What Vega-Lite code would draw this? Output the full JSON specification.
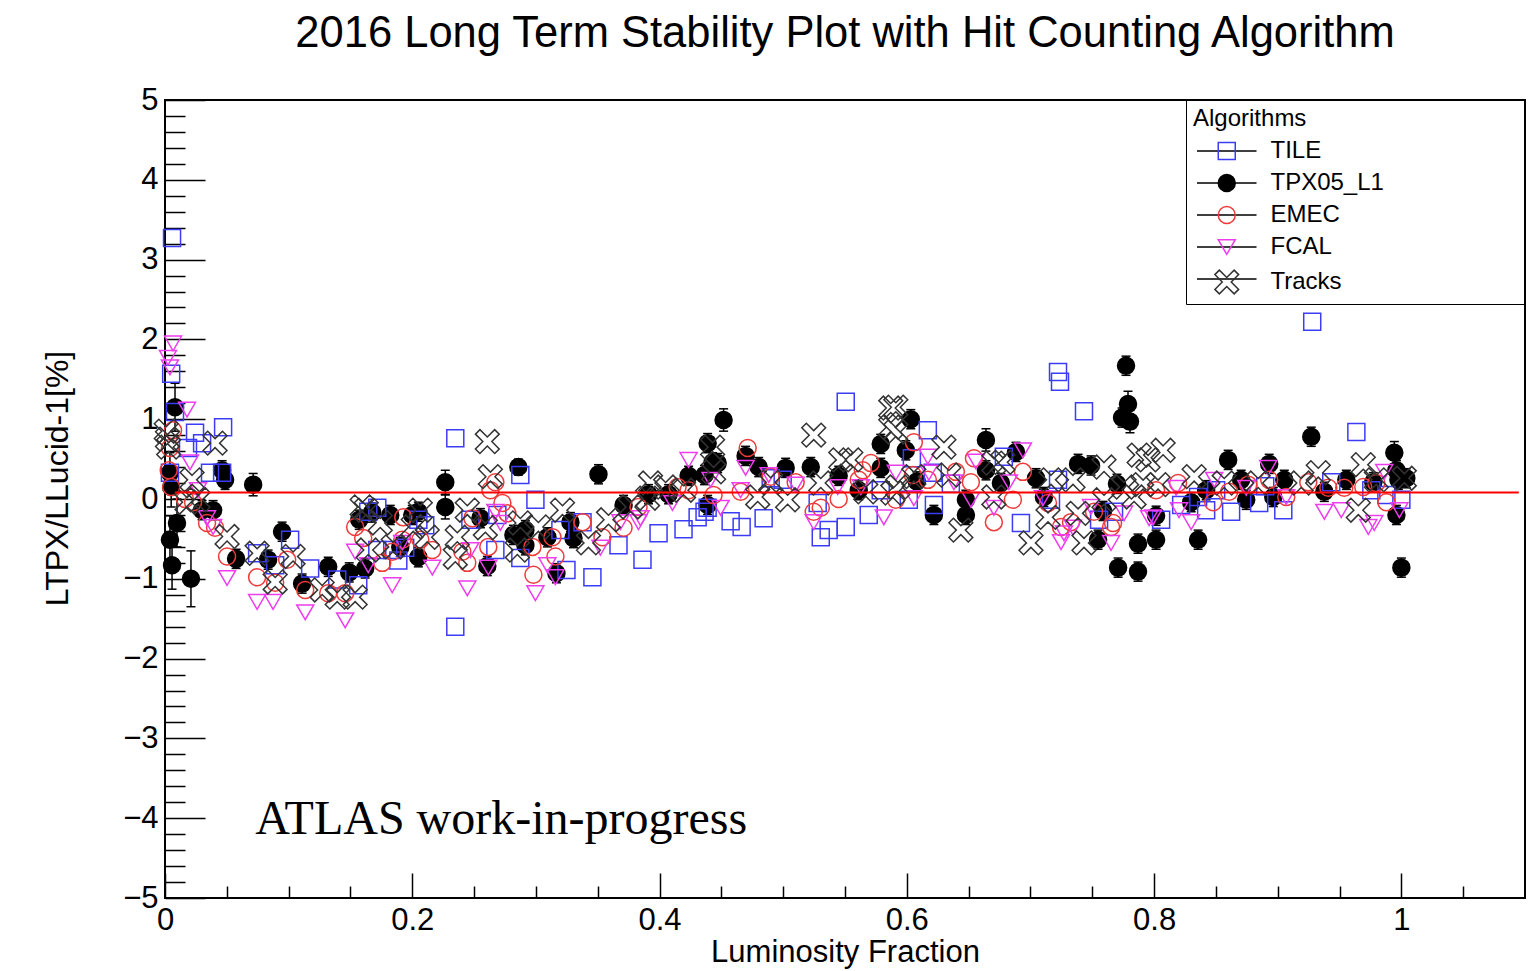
{
  "$schema": "https://vega.github.io/schema/vega-lite/v6.json",
  "width": 1360,
  "height": 798,
  "autosize": {"type": "none"},
  "padding": {"left": 165, "top": 100, "right": 12, "bottom": 73},
  "background": "white",
  "title": {
    "text": "2016 Long Term Stability Plot with Hit Counting Algorithm",
    "font": "Liberation Sans", "fontSize": 43.5, "fontWeight": "normal", "color": "black",
    "anchor": "middle", "frame": "group", "baseline": "alphabetic", "offset": 14, "dy": 20
  },
  "config": {
    "font": "Liberation Sans",
    "view": {"stroke": "black", "strokeWidth": 2}
  },
  "datasets": {
    "pts": [
      {"alg":"TPX05_L1","x":0.004,"y":-0.51,"lo":-0.81,"hi":-0.21},
      {"alg":"TPX05_L1","x":0.0057,"y":-0.83,"lo":-1.13,"hi":-0.53},
      {"alg":"TPX05_L1","x":0.0081,"y":1.15,"lo":0.85,"hi":1.45},
      {"alg":"TPX05_L1","x":0.0097,"y":-0.30,"lo":-0.60,"hi":0.00},
      {"alg":"TPX05_L1","x":0.004,"y":0.33,"lo":0.08,"hi":0.58},
      {"alg":"TPX05_L1","x":0.005,"y":0.15,"lo":-0.10,"hi":0.40},
      {"alg":"TPX05_L1","x":0.021,"y":-1.00,"lo":-1.35,"hi":-0.65},
      {"alg":"TPX05_L1","x":0.0462,"y":0.36,"lo":0.24,"hi":0.48},
      {"alg":"TPX05_L1","x":0.0486,"y":0.24,"lo":0.12,"hi":0.36},
      {"alg":"TPX05_L1","x":0.030,"y":-0.14,"lo":-0.26,"hi":-0.02},
      {"alg":"TPX05_L1","x":0.0389,"y":-0.14,"lo":-0.26,"hi":-0.02},
      {"alg":"TPX05_L1","x":0.0713,"y":0.18,"lo":0.04,"hi":0.32},
      {"alg":"TPX05_L1","x":0.0575,"y":-0.75,"lo":-0.87,"hi":-0.63},
      {"alg":"TPX05_L1","x":0.0947,"y":-0.41,"lo":-0.53,"hi":-0.29},
      {"alg":"TPX05_L1","x":0.0834,"y":-0.76,"lo":-0.88,"hi":-0.64},
      {"alg":"TPX05_L1","x":0.1109,"y":-1.06,"lo":-1.18,"hi":-0.94},
      {"alg":"TPX05_L1","x":0.132,"y":-0.85,"lo":-0.97,"hi":-0.73},
      {"alg":"TPX05_L1","x":0.149,"y":-0.92,"lo":-1.04,"hi":-0.80},
      {"alg":"TPX05_L1","x":0.1619,"y":-0.87,"lo":-0.99,"hi":-0.75},
      {"alg":"TPX05_L1","x":0.1571,"y":-0.26,"lo":-0.38,"hi":-0.14},
      {"alg":"TPX05_L1","x":0.1676,"y":-0.17,"lo":-0.29,"hi":-0.05},
      {"alg":"TPX05_L1","x":0.1822,"y":-0.20,"lo":-0.32,"hi":-0.08},
      {"alg":"TPX05_L1","x":0.1903,"y":-0.60,"lo":-0.72,"hi":-0.48},
      {"alg":"TPX05_L1","x":0.2049,"y":-0.73,"lo":-0.85,"hi":-0.61},
      {"alg":"TPX05_L1","x":0.2000,"y":-0.20,"lo":-0.32,"hi":-0.08},
      {"alg":"TPX05_L1","x":0.2049,"y":-0.16,"lo":-0.28,"hi":-0.04},
      {"alg":"TPX05_L1","x":0.2267,"y":0.21,"lo":0.06,"hi":0.36},
      {"alg":"TPX05_L1","x":0.2267,"y":-0.10,"lo":-0.25,"hi":0.05},
      {"alg":"TPX05_L1","x":0.2551,"y":-0.24,"lo":-0.36,"hi":-0.12},
      {"alg":"TPX05_L1","x":0.2607,"y":-0.84,"lo":-0.96,"hi":-0.72},
      {"alg":"TPX05_L1","x":0.2858,"y":0.40,"lo":0.30,"hi":0.50},
      {"alg":"TPX05_L1","x":0.2818,"y":-0.45,"lo":-0.57,"hi":-0.33},
      {"alg":"TPX05_L1","x":0.2915,"y":-0.39,"lo":-0.51,"hi":-0.27},
      {"alg":"TPX05_L1","x":0.2915,"y":-0.58,"lo":-0.70,"hi":-0.46},
      {"alg":"TPX05_L1","x":0.3093,"y":-0.48,"lo":-0.60,"hi":-0.36},
      {"alg":"TPX05_L1","x":0.3166,"y":-0.93,"lo":-1.05,"hi":-0.81},
      {"alg":"TPX05_L1","x":0.3279,"y":-0.29,"lo":-0.41,"hi":-0.17},
      {"alg":"TPX05_L1","x":0.3304,"y":-0.49,"lo":-0.61,"hi":-0.37},
      {"alg":"TPX05_L1","x":0.3506,"y":0.31,"lo":0.19,"hi":0.43},
      {"alg":"TPX05_L1","x":0.3709,"y":-0.075,"lo":-0.195,"hi":0.045},
      {"alg":"TPX05_L1","x":0.3911,"y":0.06,"lo":-0.06,"hi":0.18},
      {"alg":"TPX05_L1","x":0.4073,"y":0.06,"lo":-0.06,"hi":0.18},
      {"alg":"TPX05_L1","x":0.4235,"y":0.29,"lo":0.17,"hi":0.41},
      {"alg":"TPX05_L1","x":0.4364,"y":0.30,"lo":0.18,"hi":0.42},
      {"alg":"TPX05_L1","x":0.4389,"y":0.70,"lo":0.58,"hi":0.82},
      {"alg":"TPX05_L1","x":0.4429,"y":0.46,"lo":0.34,"hi":0.58},
      {"alg":"TPX05_L1","x":0.4470,"y":0.45,"lo":0.33,"hi":0.57},
      {"alg":"TPX05_L1","x":0.4518,"y":0.99,"lo":0.85,"hi":1.13},
      {"alg":"TPX05_L1","x":0.4389,"y":-0.075,"lo":-0.195,"hi":0.045},
      {"alg":"TPX05_L1","x":0.4696,"y":0.54,"lo":0.42,"hi":0.66},
      {"alg":"TPX05_L1","x":0.4802,"y":0.40,"lo":0.28,"hi":0.52},
      {"alg":"TPX05_L1","x":0.5020,"y":0.39,"lo":0.27,"hi":0.51},
      {"alg":"TPX05_L1","x":0.5223,"y":0.40,"lo":0.28,"hi":0.52},
      {"alg":"TPX05_L1","x":0.5449,"y":0.29,"lo":0.17,"hi":0.41},
      {"alg":"TPX05_L1","x":0.5611,"y":0.11,"lo":-0.01,"hi":0.23},
      {"alg":"TPX05_L1","x":0.5789,"y":0.69,"lo":0.57,"hi":0.81},
      {"alg":"TPX05_L1","x":0.5789,"y":0.39,"lo":0.27,"hi":0.51},
      {"alg":"TPX05_L1","x":0.5992,"y":0.61,"lo":0.49,"hi":0.73},
      {"alg":"TPX05_L1","x":0.6032,"y":1.00,"lo":0.88,"hi":1.12},
      {"alg":"TPX05_L1","x":0.6081,"y":0.22,"lo":0.10,"hi":0.34},
      {"alg":"TPX05_L1","x":0.6219,"y":-0.20,"lo":-0.32,"hi":-0.08},
      {"alg":"TPX05_L1","x":0.6478,"y":-0.01,"lo":-0.13,"hi":0.11},
      {"alg":"TPX05_L1","x":0.6478,"y":-0.20,"lo":-0.32,"hi":-0.08},
      {"alg":"TPX05_L1","x":0.6640,"y":0.74,"lo":0.60,"hi":0.88},
      {"alg":"TPX05_L1","x":0.6640,"y":0.36,"lo":0.24,"hi":0.48},
      {"alg":"TPX05_L1","x":0.6761,"y":0.20,"lo":0.08,"hi":0.32},
      {"alg":"TPX05_L1","x":0.6883,"y":0.59,"lo":0.47,"hi":0.71},
      {"alg":"TPX05_L1","x":0.7045,"y":0.26,"lo":0.14,"hi":0.38},
      {"alg":"TPX05_L1","x":0.7109,"y":0.025,"lo":-0.095,"hi":0.145},
      {"alg":"TPX05_L1","x":0.7385,"y":0.44,"lo":0.32,"hi":0.56},
      {"alg":"TPX05_L1","x":0.7490,"y":0.42,"lo":0.30,"hi":0.54},
      {"alg":"TPX05_L1","x":0.7547,"y":-0.51,"lo":-0.63,"hi":-0.39},
      {"alg":"TPX05_L1","x":0.7587,"y":-0.15,"lo":-0.27,"hi":-0.03},
      {"alg":"TPX05_L1","x":0.7700,"y":0.19,"lo":0.07,"hi":0.31},
      {"alg":"TPX05_L1","x":0.7709,"y":-0.86,"lo":-0.98,"hi":-0.74},
      {"alg":"TPX05_L1","x":0.7773,"y":1.67,"lo":1.55,"hi":1.79},
      {"alg":"TPX05_L1","x":0.7789,"y":1.19,"lo":1.03,"hi":1.35},
      {"alg":"TPX05_L1","x":0.7741,"y":1.02,"lo":0.90,"hi":1.14},
      {"alg":"TPX05_L1","x":0.7805,"y":0.97,"lo":0.83,"hi":1.11},
      {"alg":"TPX05_L1","x":0.7870,"y":-0.91,"lo":-1.03,"hi":-0.79},
      {"alg":"TPX05_L1","x":0.7870,"y":-0.56,"lo":-0.68,"hi":-0.44},
      {"alg":"TPX05_L1","x":0.8016,"y":-0.51,"lo":-0.63,"hi":-0.39},
      {"alg":"TPX05_L1","x":0.8016,"y":-0.21,"lo":-0.33,"hi":-0.09},
      {"alg":"TPX05_L1","x":0.8300,"y":-0.04,"lo":-0.16,"hi":0.08},
      {"alg":"TPX05_L1","x":0.8356,"y":-0.51,"lo":-0.63,"hi":-0.39},
      {"alg":"TPX05_L1","x":0.8421,"y":0.11,"lo":-0.01,"hi":0.23},
      {"alg":"TPX05_L1","x":0.8599,"y":0.49,"lo":0.37,"hi":0.61},
      {"alg":"TPX05_L1","x":0.8704,"y":0.24,"lo":0.12,"hi":0.36},
      {"alg":"TPX05_L1","x":0.8745,"y":-0.01,"lo":-0.13,"hi":0.11},
      {"alg":"TPX05_L1","x":0.8931,"y":0.44,"lo":0.32,"hi":0.56},
      {"alg":"TPX05_L1","x":0.8964,"y":0.025,"lo":-0.095,"hi":0.145},
      {"alg":"TPX05_L1","x":0.9053,"y":0.24,"lo":0.12,"hi":0.36},
      {"alg":"TPX05_L1","x":0.9271,"y":0.78,"lo":0.66,"hi":0.90},
      {"alg":"TPX05_L1","x":0.9377,"y":0.09,"lo":-0.03,"hi":0.21},
      {"alg":"TPX05_L1","x":0.9555,"y":0.24,"lo":0.12,"hi":0.36},
      {"alg":"TPX05_L1","x":0.9773,"y":0.21,"lo":0.09,"hi":0.33},
      {"alg":"TPX05_L1","x":0.9943,"y":0.58,"lo":0.44,"hi":0.72},
      {"alg":"TPX05_L1","x":0.9960,"y":0.36,"lo":0.24,"hi":0.48},
      {"alg":"TPX05_L1","x":0.9976,"y":0.24,"lo":0.12,"hi":0.36},
      {"alg":"TPX05_L1","x":0.9960,"y":-0.20,"lo":-0.32,"hi":-0.08},
      {"alg":"TPX05_L1","x":1.0000,"y":-0.86,"lo":-0.98,"hi":-0.74},
      {"alg":"TPX05_L1","x":1.0040,"y":0.26,"lo":0.14,"hi":0.38},

      {"alg":"TILE","x":0.0057,"y":3.27},{"alg":"TILE","x":0.005,"y":1.57},{"alg":"TILE","x":0.0081,"y":1.09},
      {"alg":"TILE","x":0.0243,"y":0.83},{"alg":"TILE","x":0.03,"y":0.70},{"alg":"TILE","x":0.0186,"y":0.64},
      {"alg":"TILE","x":0.047,"y":0.90},{"alg":"TILE","x":0.0364,"y":0.33},{"alg":"TILE","x":0.004,"y":0.33},
      {"alg":"TILE","x":0.0462,"y":0.33},{"alg":"TILE","x":0.0745,"y":-0.68},{"alg":"TILE","x":0.0891,"y":-0.83},
      {"alg":"TILE","x":0.1012,"y":-0.51},{"alg":"TILE","x":0.1174,"y":-0.87},{"alg":"TILE","x":0.1393,"y":-1.01},
      {"alg":"TILE","x":0.1563,"y":-1.08},{"alg":"TILE","x":0.1644,"y":-0.16},{"alg":"TILE","x":0.1717,"y":-0.11},
      {"alg":"TILE","x":0.1717,"y":-0.64},{"alg":"TILE","x":0.1887,"y":-0.77},{"alg":"TILE","x":0.1838,"y":-0.64},
      {"alg":"TILE","x":0.1943,"y":-0.61},{"alg":"TILE","x":0.2049,"y":-0.26},{"alg":"TILE","x":0.2105,"y":-0.33},
      {"alg":"TILE","x":0.2348,"y":0.76},{"alg":"TILE","x":0.2348,"y":-1.60},{"alg":"TILE","x":0.247,"y":-0.26},
      {"alg":"TILE","x":0.2688,"y":-0.20},{"alg":"TILE","x":0.2672,"y":-0.64},{"alg":"TILE","x":0.2874,"y":0.30},
      {"alg":"TILE","x":0.2874,"y":-0.74},{"alg":"TILE","x":0.2996,"y":-0.01},{"alg":"TILE","x":0.3198,"y":-0.39},
      {"alg":"TILE","x":0.3247,"y":-0.89},{"alg":"TILE","x":0.3457,"y":-0.98},{"alg":"TILE","x":0.3377,"y":-0.29},
      {"alg":"TILE","x":0.3668,"y":-0.58},{"alg":"TILE","x":0.3862,"y":-0.76},{"alg":"TILE","x":0.3992,"y":-0.43},
      {"alg":"TILE","x":0.4194,"y":-0.38},{"alg":"TILE","x":0.4308,"y":-0.23},{"alg":"TILE","x":0.4364,"y":-0.16},
      {"alg":"TILE","x":0.4389,"y":-0.11},{"alg":"TILE","x":0.4575,"y":-0.28},{"alg":"TILE","x":0.4664,"y":-0.35},
      {"alg":"TILE","x":0.4842,"y":-0.24},{"alg":"TILE","x":0.4899,"y":0.26},{"alg":"TILE","x":0.4996,"y":0.24},
      {"alg":"TILE","x":0.5279,"y":-0.05},{"alg":"TILE","x":0.5304,"y":-0.48},{"alg":"TILE","x":0.5368,"y":-0.39},
      {"alg":"TILE","x":0.5506,"y":-0.35},{"alg":"TILE","x":0.5506,"y":1.22},{"alg":"TILE","x":0.5692,"y":-0.20},
      {"alg":"TILE","x":0.5789,"y":0.11},{"alg":"TILE","x":0.6016,"y":-0.01},{"alg":"TILE","x":0.6041,"y":0.51},
      {"alg":"TILE","x":0.617,"y":0.86},{"alg":"TILE","x":0.621,"y":0.33},{"alg":"TILE","x":0.6219,"y":-0.075},
      {"alg":"TILE","x":0.6356,"y":0.19},{"alg":"TILE","x":0.6785,"y":0.53},{"alg":"TILE","x":0.6923,"y":-0.30},
      {"alg":"TILE","x":0.7223,"y":1.59},{"alg":"TILE","x":0.7239,"y":1.47},{"alg":"TILE","x":0.7433,"y":1.10},
      {"alg":"TILE","x":0.7166,"y":-0.01},{"alg":"TILE","x":0.7223,"y":0.24},{"alg":"TILE","x":0.7555,"y":-0.26},
      {"alg":"TILE","x":0.7676,"y":-0.16},{"alg":"TILE","x":0.8057,"y":-0.26},{"alg":"TILE","x":0.8219,"y":-0.075},
      {"alg":"TILE","x":0.8356,"y":0.025},{"alg":"TILE","x":0.8421,"y":-0.14},{"alg":"TILE","x":0.8502,"y":0.11},
      {"alg":"TILE","x":0.8623,"y":-0.16},{"alg":"TILE","x":0.885,"y":-0.05},{"alg":"TILE","x":0.8899,"y":0.16},
      {"alg":"TILE","x":0.9045,"y":-0.14},{"alg":"TILE","x":0.9279,"y":2.22},{"alg":"TILE","x":0.9636,"y":0.84},
      {"alg":"TILE","x":0.9433,"y":0.21},{"alg":"TILE","x":0.9757,"y":0.11},{"alg":"TILE","x":0.9879,"y":0.05},
      {"alg":"TILE","x":1.0,"y":-0.01},

      {"alg":"EMEC","x":0.004,"y":0.64},{"alg":"EMEC","x":0.0065,"y":0.86},{"alg":"EMEC","x":0.005,"y":0.15},
      {"alg":"EMEC","x":0.003,"y":0.36},{"alg":"EMEC","x":0.0162,"y":0.0},{"alg":"EMEC","x":0.0227,"y":-0.04},
      {"alg":"EMEC","x":0.034,"y":-0.30},{"alg":"EMEC","x":0.0405,"y":-0.36},{"alg":"EMEC","x":0.0502,"y":-0.72},
      {"alg":"EMEC","x":0.0745,"y":-0.98},{"alg":"EMEC","x":0.0891,"y":-1.05},{"alg":"EMEC","x":0.0988,"y":-0.76},
      {"alg":"EMEC","x":0.1134,"y":-1.14},{"alg":"EMEC","x":0.132,"y":-1.18},{"alg":"EMEC","x":0.1457,"y":-1.18},
      {"alg":"EMEC","x":0.1538,"y":-0.35},{"alg":"EMEC","x":0.1603,"y":-0.49},{"alg":"EMEC","x":0.1927,"y":-0.23},
      {"alg":"EMEC","x":0.1757,"y":-0.80},{"alg":"EMEC","x":0.1838,"y":-0.66},{"alg":"EMEC","x":0.1919,"y":-0.51},
      {"alg":"EMEC","x":0.2065,"y":-0.51},{"alg":"EMEC","x":0.2162,"y":-0.64},{"alg":"EMEC","x":0.2486,"y":-0.24},
      {"alg":"EMEC","x":0.2445,"y":-0.80},{"alg":"EMEC","x":0.2405,"y":-0.66},{"alg":"EMEC","x":0.2615,"y":-0.60},
      {"alg":"EMEC","x":0.2672,"y":0.21},{"alg":"EMEC","x":0.2632,"y":0.11},{"alg":"EMEC","x":0.2729,"y":-0.05},
      {"alg":"EMEC","x":0.2769,"y":-0.18},{"alg":"EMEC","x":0.2972,"y":-0.60},{"alg":"EMEC","x":0.298,"y":-0.95},
      {"alg":"EMEC","x":0.3134,"y":-0.48},{"alg":"EMEC","x":0.3158,"y":-0.72},{"alg":"EMEC","x":0.3377,"y":-0.29},
      {"alg":"EMEC","x":0.3538,"y":-0.48},{"alg":"EMEC","x":0.3709,"y":-0.36},{"alg":"EMEC","x":0.383,"y":-0.10},
      {"alg":"EMEC","x":0.4146,"y":0.15},{"alg":"EMEC","x":0.4235,"y":0.11},{"alg":"EMEC","x":0.4437,"y":0.05},
      {"alg":"EMEC","x":0.4656,"y":0.09},{"alg":"EMEC","x":0.4713,"y":0.64},{"alg":"EMEC","x":0.4899,"y":0.28},
      {"alg":"EMEC","x":0.5101,"y":0.21},{"alg":"EMEC","x":0.5247,"y":-0.16},{"alg":"EMEC","x":0.5304,"y":-0.11},
      {"alg":"EMEC","x":0.5449,"y":0.0},{"alg":"EMEC","x":0.5611,"y":0.24},{"alg":"EMEC","x":0.5644,"y":0.36},
      {"alg":"EMEC","x":0.5709,"y":0.45},{"alg":"EMEC","x":0.5911,"y":-0.01},{"alg":"EMEC","x":0.6057,"y":0.71},
      {"alg":"EMEC","x":0.6049,"y":0.30},{"alg":"EMEC","x":0.617,"y":0.24},{"alg":"EMEC","x":0.6397,"y":0.34},
      {"alg":"EMEC","x":0.6518,"y":0.21},{"alg":"EMEC","x":0.6543,"y":0.51},{"alg":"EMEC","x":0.6704,"y":-0.29},
      {"alg":"EMEC","x":0.6858,"y":-0.01},{"alg":"EMEC","x":0.6939,"y":0.34},{"alg":"EMEC","x":0.7142,"y":-0.05},
      {"alg":"EMEC","x":0.7247,"y":-0.35},{"alg":"EMEC","x":0.7328,"y":-0.29},{"alg":"EMEC","x":0.7514,"y":-0.16},
      {"alg":"EMEC","x":0.7652,"y":-0.35},{"alg":"EMEC","x":0.7668,"y":-0.30},{"alg":"EMEC","x":0.8016,"y":0.11},
      {"alg":"EMEC","x":0.8194,"y":0.20},{"alg":"EMEC","x":0.8478,"y":-0.04},{"alg":"EMEC","x":0.8607,"y":0.09},
      {"alg":"EMEC","x":0.8761,"y":0.18},{"alg":"EMEC","x":0.8931,"y":0.24},{"alg":"EMEC","x":0.9069,"y":0.025},
      {"alg":"EMEC","x":0.9247,"y":0.21},{"alg":"EMEC","x":0.9409,"y":0.14},{"alg":"EMEC","x":0.9538,"y":0.14},
      {"alg":"EMEC","x":0.9692,"y":0.15},{"alg":"EMEC","x":0.9798,"y":0.20},{"alg":"EMEC","x":0.9879,"y":-0.04},

      {"alg":"FCAL","x":0.0065,"y":1.95},{"alg":"FCAL","x":0.0024,"y":1.77},{"alg":"FCAL","x":0.004,"y":1.65},
      {"alg":"FCAL","x":0.0178,"y":1.12},{"alg":"FCAL","x":0.0202,"y":0.46},{"alg":"FCAL","x":0.0267,"y":0.11},
      {"alg":"FCAL","x":0.034,"y":-0.24},{"alg":"FCAL","x":0.0389,"y":-0.35},{"alg":"FCAL","x":0.0502,"y":-0.99},
      {"alg":"FCAL","x":0.0745,"y":-1.29},{"alg":"FCAL","x":0.0874,"y":-1.29},{"alg":"FCAL","x":0.1134,"y":-1.42},
      {"alg":"FCAL","x":0.1457,"y":-1.52},{"alg":"FCAL","x":0.1538,"y":-0.66},{"alg":"FCAL","x":0.1838,"y":-1.08},
      {"alg":"FCAL","x":0.1644,"y":-0.83},{"alg":"FCAL","x":0.2162,"y":-0.86},{"alg":"FCAL","x":0.2445,"y":-1.12},
      {"alg":"FCAL","x":0.1919,"y":-0.55},{"alg":"FCAL","x":0.2672,"y":-0.16},{"alg":"FCAL","x":0.2713,"y":-0.30},
      {"alg":"FCAL","x":0.2615,"y":-0.86},{"alg":"FCAL","x":0.2996,"y":-1.18},{"alg":"FCAL","x":0.3158,"y":-0.98},
      {"alg":"FCAL","x":0.3093,"y":-0.83},{"alg":"FCAL","x":0.3522,"y":-0.61},{"alg":"FCAL","x":0.383,"y":-0.29},
      {"alg":"FCAL","x":0.3684,"y":-0.29},{"alg":"FCAL","x":0.247,"y":-0.64},{"alg":"FCAL","x":0.4235,"y":0.49},
      {"alg":"FCAL","x":0.3846,"y":-0.24},{"alg":"FCAL","x":0.4105,"y":-0.05},{"alg":"FCAL","x":0.4413,"y":0.24},
      {"alg":"FCAL","x":0.4494,"y":-0.11},{"alg":"FCAL","x":0.4696,"y":0.39},{"alg":"FCAL","x":0.4656,"y":0.11},
      {"alg":"FCAL","x":0.4883,"y":0.30},{"alg":"FCAL","x":0.5101,"y":0.18},{"alg":"FCAL","x":0.5247,"y":-0.29},
      {"alg":"FCAL","x":0.5441,"y":0.15},{"alg":"FCAL","x":0.5628,"y":0.15},{"alg":"FCAL","x":0.5814,"y":-0.23},
      {"alg":"FCAL","x":0.5911,"y":0.33},{"alg":"FCAL","x":0.6057,"y":0.01},{"alg":"FCAL","x":0.617,"y":0.53},
      {"alg":"FCAL","x":0.6178,"y":0.33},{"alg":"FCAL","x":0.6381,"y":0.21},{"alg":"FCAL","x":0.6559,"y":0.47},
      {"alg":"FCAL","x":0.6518,"y":-0.01},{"alg":"FCAL","x":0.6704,"y":-0.11},{"alg":"FCAL","x":0.6826,"y":0.21},
      {"alg":"FCAL","x":0.6939,"y":0.61},{"alg":"FCAL","x":0.7101,"y":0.01},{"alg":"FCAL","x":0.7271,"y":-0.43},
      {"alg":"FCAL","x":0.7247,"y":-0.54},{"alg":"FCAL","x":0.7344,"y":-0.36},{"alg":"FCAL","x":0.749,"y":-0.10},
      {"alg":"FCAL","x":0.7652,"y":-0.55},{"alg":"FCAL","x":0.7757,"y":-0.18},{"alg":"FCAL","x":0.796,"y":-0.24},
      {"alg":"FCAL","x":0.7992,"y":-0.23},{"alg":"FCAL","x":0.8178,"y":0.14},{"alg":"FCAL","x":0.8202,"y":-0.14},
      {"alg":"FCAL","x":0.83,"y":-0.29},{"alg":"FCAL","x":0.8486,"y":0.24},{"alg":"FCAL","x":0.8745,"y":0.14},
      {"alg":"FCAL","x":0.8923,"y":0.39},{"alg":"FCAL","x":0.9069,"y":0.025},{"alg":"FCAL","x":0.9377,"y":-0.16},
      {"alg":"FCAL","x":0.9514,"y":-0.14},{"alg":"FCAL","x":0.9733,"y":-0.35},{"alg":"FCAL","x":0.9781,"y":-0.30},
      {"alg":"FCAL","x":0.9862,"y":0.34},{"alg":"FCAL","x":0.9984,"y":-0.14},

      {"alg":"Tracks","x":0.001,"y":0.85},{"alg":"Tracks","x":0.002,"y":0.75},{"alg":"Tracks","x":0.003,"y":0.65},
      {"alg":"Tracks","x":0.0219,"y":0.24},{"alg":"Tracks","x":0.0405,"y":0.70},{"alg":"Tracks","x":0.0502,"y":-0.47},
      {"alg":"Tracks","x":0.0267,"y":-0.01},{"alg":"Tracks","x":0.0178,"y":-0.04},{"alg":"Tracks","x":0.0745,"y":-0.68},
      {"alg":"Tracks","x":0.0891,"y":-1.04},{"alg":"Tracks","x":0.1036,"y":-0.72},{"alg":"Tracks","x":0.1271,"y":-1.14},
      {"alg":"Tracks","x":0.1393,"y":-1.23},{"alg":"Tracks","x":0.1538,"y":-1.23},{"alg":"Tracks","x":0.1595,"y":-0.10},
      {"alg":"Tracks","x":0.1644,"y":-0.64},{"alg":"Tracks","x":0.1846,"y":-0.60},{"alg":"Tracks","x":0.1628,"y":-0.14},
      {"alg":"Tracks","x":0.1741,"y":-0.30},{"alg":"Tracks","x":0.2065,"y":-0.14},{"alg":"Tracks","x":0.2607,"y":0.72},
      {"alg":"Tracks","x":0.2632,"y":0.28},{"alg":"Tracks","x":0.2445,"y":-0.14},{"alg":"Tracks","x":0.2364,"y":-0.48},
      {"alg":"Tracks","x":0.2348,"y":-0.73},{"alg":"Tracks","x":0.2591,"y":-0.36},{"alg":"Tracks","x":0.302,"y":-0.35},
      {"alg":"Tracks","x":0.3215,"y":-0.14},{"alg":"Tracks","x":0.3425,"y":-0.55},{"alg":"Tracks","x":0.3587,"y":-0.26},
      {"alg":"Tracks","x":0.3765,"y":-0.10},{"alg":"Tracks","x":0.3903,"y":0.01},{"alg":"Tracks","x":0.2121,"y":-0.48},
      {"alg":"Tracks","x":0.2008,"y":-0.35},{"alg":"Tracks","x":0.285,"y":-0.64},{"alg":"Tracks","x":0.2874,"y":-0.30},
      {"alg":"Tracks","x":0.5247,"y":0.80},{"alg":"Tracks","x":0.587,"y":1.14},{"alg":"Tracks","x":0.587,"y":0.90},
      {"alg":"Tracks","x":0.5466,"y":0.49},{"alg":"Tracks","x":0.5547,"y":0.49},{"alg":"Tracks","x":0.4899,"y":0.21},
      {"alg":"Tracks","x":0.5304,"y":0.20},{"alg":"Tracks","x":0.5036,"y":-0.01},{"alg":"Tracks","x":0.4794,"y":0.025},
      {"alg":"Tracks","x":0.4437,"y":0.34},{"alg":"Tracks","x":0.4429,"y":0.65},{"alg":"Tracks","x":0.3927,"y":0.20},
      {"alg":"Tracks","x":0.4049,"y":0.15},{"alg":"Tracks","x":0.4194,"y":0.11},{"alg":"Tracks","x":0.5668,"y":0.09},
      {"alg":"Tracks","x":0.5887,"y":0.075},{"alg":"Tracks","x":0.5911,"y":1.15},{"alg":"Tracks","x":0.5911,"y":0.84},
      {"alg":"Tracks","x":0.63,"y":0.65},{"alg":"Tracks","x":0.6437,"y":-0.39},{"alg":"Tracks","x":0.6704,"y":0.45},
      {"alg":"Tracks","x":0.6777,"y":0.46},{"alg":"Tracks","x":0.7004,"y":-0.55},{"alg":"Tracks","x":0.7166,"y":0.24},
      {"alg":"Tracks","x":0.7344,"y":0.24},{"alg":"Tracks","x":0.7433,"y":-0.55},{"alg":"Tracks","x":0.7595,"y":0.40},
      {"alg":"Tracks","x":0.7879,"y":0.55},{"alg":"Tracks","x":0.7951,"y":0.49},{"alg":"Tracks","x":0.5927,"y":0.15},
      {"alg":"Tracks","x":0.6057,"y":0.28},{"alg":"Tracks","x":0.634,"y":0.30},{"alg":"Tracks","x":0.6704,"y":0.025},
      {"alg":"Tracks","x":0.7142,"y":-0.23},{"alg":"Tracks","x":0.7385,"y":-0.18},{"alg":"Tracks","x":0.7595,"y":-0.01},
      {"alg":"Tracks","x":0.7757,"y":0.15},{"alg":"Tracks","x":0.7838,"y":0.025},{"alg":"Tracks","x":0.8073,"y":0.61},
      {"alg":"Tracks","x":0.7911,"y":0.18},{"alg":"Tracks","x":0.8032,"y":0.18},{"alg":"Tracks","x":0.8324,"y":0.28},
      {"alg":"Tracks","x":0.8567,"y":0.20},{"alg":"Tracks","x":0.8842,"y":0.20},{"alg":"Tracks","x":0.919,"y":0.20},
      {"alg":"Tracks","x":0.9328,"y":0.33},{"alg":"Tracks","x":0.9692,"y":0.43},{"alg":"Tracks","x":0.9652,"y":-0.14},
      {"alg":"Tracks","x":0.9798,"y":0.24},{"alg":"Tracks","x":1.0024,"y":0.26}
    ]
  },
  "layer": [
    {
      "data": {"name": "pts"},
      "transform": [{"filter": "datum.alg === 'TPX05_L1'"}],
      "mark": {"type": "rule", "color": "black", "strokeWidth": 1.5},
      "encoding": {
        "x": {"field": "x", "type": "quantitative", "title": "Luminosity Fraction", "scale": {"domain": [0, 1.1], "nice": false, "zero": false}},
        "y": {"field": "lo", "type": "quantitative", "title": "LTPX/LLucid-1[%]", "scale": {"domain": [-5, 5], "nice": false, "zero": false}},
        "y2": {"field": "hi"},
        "strokeDash": {
          "field": "alg", "type": "nominal", "title": "Algorithms",
          "scale": {"domain": ["TILE", "TPX05_L1", "EMEC", "FCAL", "Tracks", "none"], "range": [[1, 0], [1, 0], [1, 0], [1, 0], [1, 0], [1, 0]]},
          "legend": {
            "values": ["TILE", "TPX05_L1", "EMEC", "FCAL", "Tracks"],
            "orient": "none", "legendX": 1021, "legendY": 0,
            "title": "Algorithms", "titleFont": "Liberation Sans", "titleFontSize": 24, "titleFontWeight": "normal", "titleOpacity": 0, "titlePadding": 8,
            "labelFont": "Liberation Sans", "labelFontSize": 24, "labelOpacity": 0, "labelLimit": 600,
            "labelExpr": "datum.label + '\u00a0\u00a0\u00a0\u00a0\u00a0\u00a0\u00a0\u00a0\u00a0\u00a0\u00a0\u00a0\u00a0\u00a0\u00a0\u00a0\u00a0\u00a0\u00a0\u00a0\u200b'",
            "symbolType": "M-3.5,0H3.5", "symbolSize": 289, "symbolStrokeColor": "black", "symbolStrokeWidth": 1.5, "symbolOpacity": 1,
            "symbolOffset": 21.75, "labelOffset": 31.75, "padding": 7, "rowPadding": 8
          }
        }
      }
    },
    {
      "data": {"name": "pts"},
      "transform": [{"filter": "datum.alg === 'TPX05_L1'"}],
      "mark": {"type": "tick", "orient": "horizontal", "color": "black", "size": 9, "thickness": 1.5, "opacity": 1},
      "encoding": {
        "x": {"field": "x", "type": "quantitative", "title": "Luminosity Fraction", "scale": {"domain": [0, 1.1], "nice": false, "zero": false}},
        "y": {"field": "lo", "type": "quantitative", "title": "LTPX/LLucid-1[%]", "scale": {"domain": [-5, 5], "nice": false, "zero": false}}
      }
    },
    {
      "data": {"name": "pts"},
      "transform": [{"filter": "datum.alg === 'TPX05_L1'"}],
      "mark": {"type": "tick", "orient": "horizontal", "color": "black", "size": 9, "thickness": 1.5, "opacity": 1},
      "encoding": {
        "x": {"field": "x", "type": "quantitative", "title": "Luminosity Fraction", "scale": {"domain": [0, 1.1], "nice": false, "zero": false}},
        "y": {"field": "hi", "type": "quantitative", "title": "LTPX/LLucid-1[%]", "scale": {"domain": [-5, 5], "nice": false, "zero": false}}
      }
    },
    {
      "data": {"name": "pts"},
      "mark": {"type": "point", "filled": false, "strokeWidth": 1.5, "opacity": 1, "clip": false, "size": 289},
      "encoding": {
        "x": {
          "field": "x", "type": "quantitative", "title": "Luminosity Fraction",
          "scale": {"domain": [0, 1.1], "nice": false, "zero": false},
          "axis": {
            "title": "Luminosity Fraction", "titleFont": "Liberation Sans", "titleFontSize": 31, "titleFontWeight": "normal", "titleColor": "black",
            "titleY": 54, "titleBaseline": "middle",
            "values": [0, 0.05, 0.1, 0.15, 0.2, 0.25, 0.3, 0.35, 0.4, 0.45, 0.5, 0.55, 0.6, 0.65, 0.7, 0.75, 0.8, 0.85, 0.9, 0.95, 1, 1.05],
            "tickCount": 60,
            "labelExpr": "abs(datum.value*5 - round(datum.value*5)) < 1e-6 ? format(datum.value, '~g') : ''",
            "labelFont": "Liberation Sans", "labelFontSize": 31, "labelColor": "black",
            "labelFlush": false, "labelOverlap": false, "labelBound": false, "labelPadding": 32, "labelBaseline": "top",
            "tickSize": {"condition": {"test": "abs(datum.value*5 - round(datum.value*5)) < 1e-6", "value": -25}, "value": -12},
            "tickColor": "black", "tickWidth": 1.5, "domain": false, "grid": false
          }
        },
        "y": {
          "field": "y", "type": "quantitative", "title": "LTPX/LLucid-1[%]",
          "scale": {"domain": [-5, 5], "nice": false, "zero": false},
          "axis": {
            "title": "LTPX/LLucid-1[%]", "titleFont": "Liberation Sans", "titleFontSize": 32, "titleFontWeight": "normal", "titleColor": "black",
            "titleX": -108, "titleY": 378, "titleBaseline": "middle", "titleAlign": "center", "titleAngle": 270,
            "values": [-5, -4.8, -4.6, -4.4, -4.2, -4, -3.8, -3.6, -3.4, -3.2, -3, -2.8, -2.6, -2.4, -2.2, -2, -1.8, -1.6, -1.4, -1.2, -1, -0.8, -0.6, -0.4, -0.2, 0, 0.2, 0.4, 0.6, 0.8, 1, 1.2, 1.4, 1.6, 1.8, 2, 2.2, 2.4, 2.6, 2.8, 3, 3.2, 3.4, 3.6, 3.8, 4, 4.2, 4.4, 4.6, 4.8, 5],
            "tickCount": 100,
            "labelExpr": "abs(datum.value - round(datum.value)) < 1e-6 ? format(datum.value, 'd') : ''",
            "labelFont": "Liberation Sans", "labelFontSize": 31, "labelColor": "black",
            "labelFlush": false, "labelOverlap": false, "labelBound": false, "labelPadding": 47,
            "tickSize": {"condition": {"test": "abs(datum.value - round(datum.value)) < 1e-6", "value": -40}, "value": -20},
            "tickColor": "black", "tickWidth": 1.5, "domain": false, "grid": false
          }
        },
        "shape": {
          "field": "alg", "type": "nominal", "title": "Algorithms",
          "scale": {"domain": ["TILE", "TPX05_L1", "EMEC", "FCAL", "Tracks"], "range": ["square", "circle", "circle", "triangle-down", "M0,-0.53L0.87,-1.4L1.4,-0.87L0.53,0L1.4,0.87L0.87,1.4L0,0.53L-0.87,1.4L-1.4,0.87L-0.53,0L-1.4,-0.87L-0.87,-1.4Z"]},
          "legend": {
            "orient": "none", "legendX": 1021, "legendY": 0,
            "title": "Algorithms", "titleFont": "Liberation Sans", "titleFontSize": 24, "titleFontWeight": "normal", "titleColor": "black", "titlePadding": 8,
            "labelFont": "Liberation Sans", "labelFontSize": 24, "labelColor": "black", "labelLimit": 600,
            "labelExpr": "datum.label + '\u00a0\u00a0\u00a0\u00a0\u00a0\u00a0\u00a0\u00a0\u00a0\u00a0\u00a0\u00a0\u00a0\u00a0\u00a0\u00a0\u00a0\u00a0\u00a0\u00a0\u200b'",
            "symbolSize": 289, "symbolStrokeWidth": 1.5, "symbolOpacity": 1,
            "symbolOffset": 21.75, "labelOffset": 31.75, "padding": 7, "rowPadding": 8,
            "strokeColor": "black",
            "encode": {"legend": {"update": {"strokeWidth": {"value": 2}}}}
          }
        },
        "stroke": {
          "field": "alg", "type": "nominal", "title": "Algorithms",
          "scale": {"domain": ["TILE", "TPX05_L1", "EMEC", "FCAL", "Tracks"], "range": ["#3c3cf5", "#000000", "#ee3a3a", "#ee3cee", "#333333"]}
        },
        "fill": {
          "field": "alg", "type": "nominal", "title": "Algorithms",
          "scale": {"domain": ["TILE", "TPX05_L1", "EMEC", "FCAL", "Tracks"], "range": ["transparent", "#000000", "transparent", "transparent", "transparent"]}
        }
      }
    },
    {
      "data": {"values": [{"x": 0.008, "x2": 1.095, "y": 0.08}]},
      "mark": {"type": "rule", "color": "#ff0000", "strokeWidth": 2},
      "encoding": {
        "x": {"field": "x", "type": "quantitative", "title": "Luminosity Fraction", "scale": {"domain": [0, 1.1], "nice": false, "zero": false}},
        "x2": {"field": "x2"},
        "y": {"field": "y", "type": "quantitative", "title": "LTPX/LLucid-1[%]", "scale": {"domain": [-5, 5], "nice": false, "zero": false}}
      }
    },
    {
      "data": {"values": [{"label": "ATLAS work-in-progress", "x": 0.073, "y": -4.02}]},
      "mark": {"type": "text", "align": "left", "baseline": "middle", "font": "Liberation Serif", "fontSize": 48, "color": "black"},
      "encoding": {
        "x": {"field": "x", "type": "quantitative", "title": "Luminosity Fraction", "scale": {"domain": [0, 1.1], "nice": false, "zero": false}},
        "y": {"field": "y", "type": "quantitative", "title": "LTPX/LLucid-1[%]", "scale": {"domain": [-5, 5], "nice": false, "zero": false}},
        "text": {"field": "label"}
      }
    }
  ]
}
